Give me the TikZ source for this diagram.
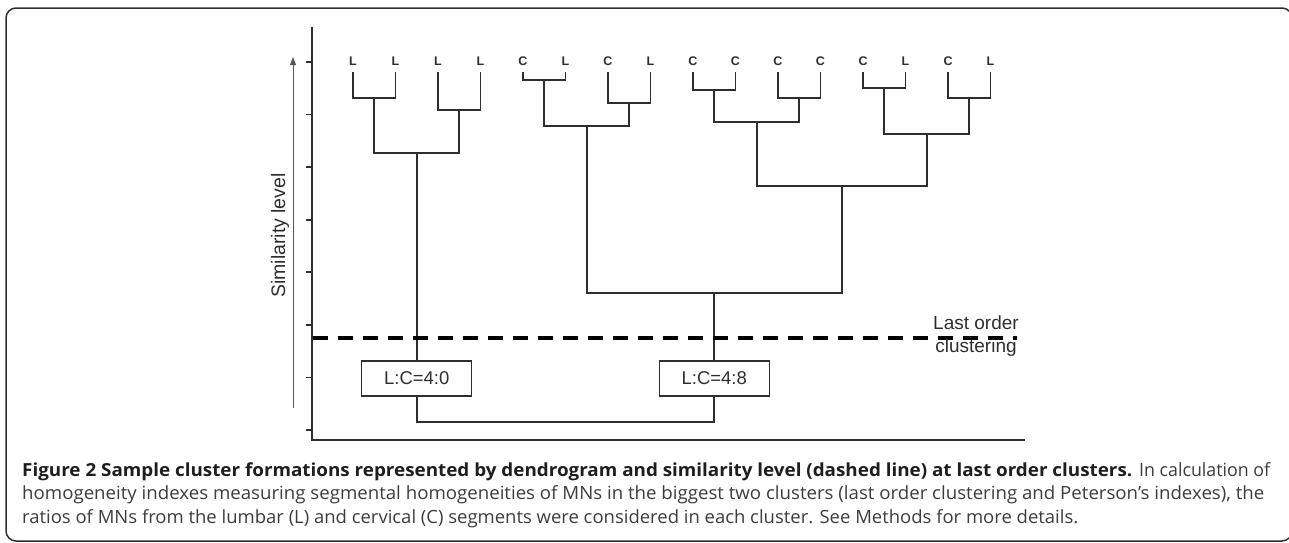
\documentclass[tikz,border=0pt]{standalone}
\usepackage{fontspec}
\usepackage{graphicx}
\setmainfont{Liberation Sans}
\newfontfamily\capfont{Open Sans}
\usetikzlibrary{arrows.meta}
\definecolor{ink}{HTML}{2E2E2E}
\definecolor{capb}{HTML}{1E1E1E}
\definecolor{capr}{HTML}{3C3C3C}
\begin{document}
\begin{tikzpicture}[x=1pt,y=-1pt,
  dendro/.style={draw=ink, line width=1.8pt},
  axisline/.style={draw=ink, line width=1.8pt},
  leaflab/.style={font=\bfseries\fontsize{12.5}{14}\selectfont, text=ink, inner sep=0pt},
  ratio/.style={draw=ink, line width=1.2pt, minimum width=110pt, minimum height=35pt, inner sep=0pt, font=\fontsize{18.5}{22}\selectfont, text=ink},
  capline/.style={inner sep=0pt, anchor=base west, font=\capfont\fontsize{18.2}{23.5}\selectfont}]
\useasboundingbox (0,0) rectangle (1289,542);
% frame
\draw[line width=1.5pt, draw=ink, rounded corners=10pt] (6,8) rectangle (1292,541);
% axes
\coordinate (ytop) at (312,27);
\coordinate (orig) at (312,440);
\coordinate (xend) at (1025,440);
\draw[axisline] (ytop) -- (orig) -- (xend);
\foreach \k in {0,...,7}
  \draw[axisline] (306,{62+52.57*\k}) -- (312,{62+52.57*\k});
% similarity arrow
\coordinate (a0) at (293,408);
\coordinate (a1) at (293,57);
\draw[line width=1pt, draw=ink!80, -{Triangle[length=8pt,width=6pt]}] (a0) -- (a1);
\node[rotate=90, font=\fontsize{19.5}{23}\selectfont, text=ink] (sim) at (280,235.5) {Similarity level};
% leaves
\foreach \lab [count=\i] in {L,L,L,L,C,L,C,L,C,C,C,C,C,L,C,L} {
  \node[leaflab] (n\i) at ({353+42.5*(\i-1)},61) {\lab};
  \coordinate (t\i) at ({353+42.5*(\i-1)},72);
}
% merge points
\coordinate (m12) at (374.25,98);
\coordinate (m34) at (459.25,110);
\coordinate (mA) at (416.75,153);
\coordinate (m56) at (544.25,80);
\coordinate (m78) at (629.25,103);
\coordinate (m58) at (586.75,126);
\coordinate (m910) at (714.25,90);
\coordinate (m1112) at (799.25,98);
\coordinate (m912) at (756.75,122);
\coordinate (m1314) at (884.25,88);
\coordinate (m1516) at (969.25,98);
\coordinate (m1316) at (926.75,134);
\coordinate (m916) at (841.75,186);
\coordinate (mB) at (714.25,293);
\coordinate (root) at (565,422);
% leaf pairs
\draw[dendro] (t1) |- (m12) -| (t2);
\draw[dendro] (t3) |- (m34) -| (t4);
\draw[dendro] (t5) |- (m56) -| (t6);
\draw[dendro] (t7) |- (m78) -| (t8);
\draw[dendro] (t9) |- (m910) -| (t10);
\draw[dendro] (t11) |- (m1112) -| (t12);
\draw[dendro] (t13) |- (m1314) -| (t14);
\draw[dendro] (t15) |- (m1516) -| (t16);
% higher merges
\draw[dendro] (m12) |- (mA) -| (m34);
\draw[dendro] (m56) |- (m58) -| (m78);
\draw[dendro] (m910) |- (m912) -| (m1112);
\draw[dendro] (m1314) |- (m1316) -| (m1516);
\draw[dendro] (m912) |- (m916) -| (m1316);
\draw[dendro] (m58) |- (mB) -| (m916);
% ratio boxes
\node[ratio] (b1) at (416.75,378.5) {L:C=4:0};
\node[ratio] (b2) at (714.25,378.5) {L:C=4:8};
\draw[dendro] (mA) -- (b1.north);
\draw[dendro] (mB) -- (b2.north);
\draw[dendro] (b1.south) |- (root) -| (b2.south);
% dashed cut line
\coordinate (d1) at (313,338);
\coordinate (d2) at (1017,338);
\draw[line width=3.2pt, dash pattern=on 15pt off 10pt] (d1) -- (d2);
\node[align=center, font=\fontsize{19}{23}\selectfont, text=ink, inner sep=0pt] (lo) at (976,336) {Last order\\clustering};
% caption
\node[capline, text=capb] (c1a) at (22,476) {\resizebox{1110pt}{\height}{\bfseries\fontsize{18}{23.5}\selectfont Figure 2 Sample cluster formations represented by dendrogram and similarity level (dashed line) at last order clusters.}};
\node[capline, text=capr] (c1b) at (1139,476) {\resizebox{131pt}{\height}{In calculation of}};
\node[capline, text=capr] (c2) at (22,499.5) {\resizebox{1242pt}{\height}{homogeneity indexes measuring segmental homogeneities of MNs in the biggest two clusters (last order clustering and Peterson’s indexes), the}};
\node[capline, text=capr] (c3) at (22,523) {\resizebox{1056pt}{\height}{ratios of MNs from the lumbar (L) and cervical (C) segments were considered in each cluster. See Methods for more details.}};
\end{tikzpicture}
\end{document}
